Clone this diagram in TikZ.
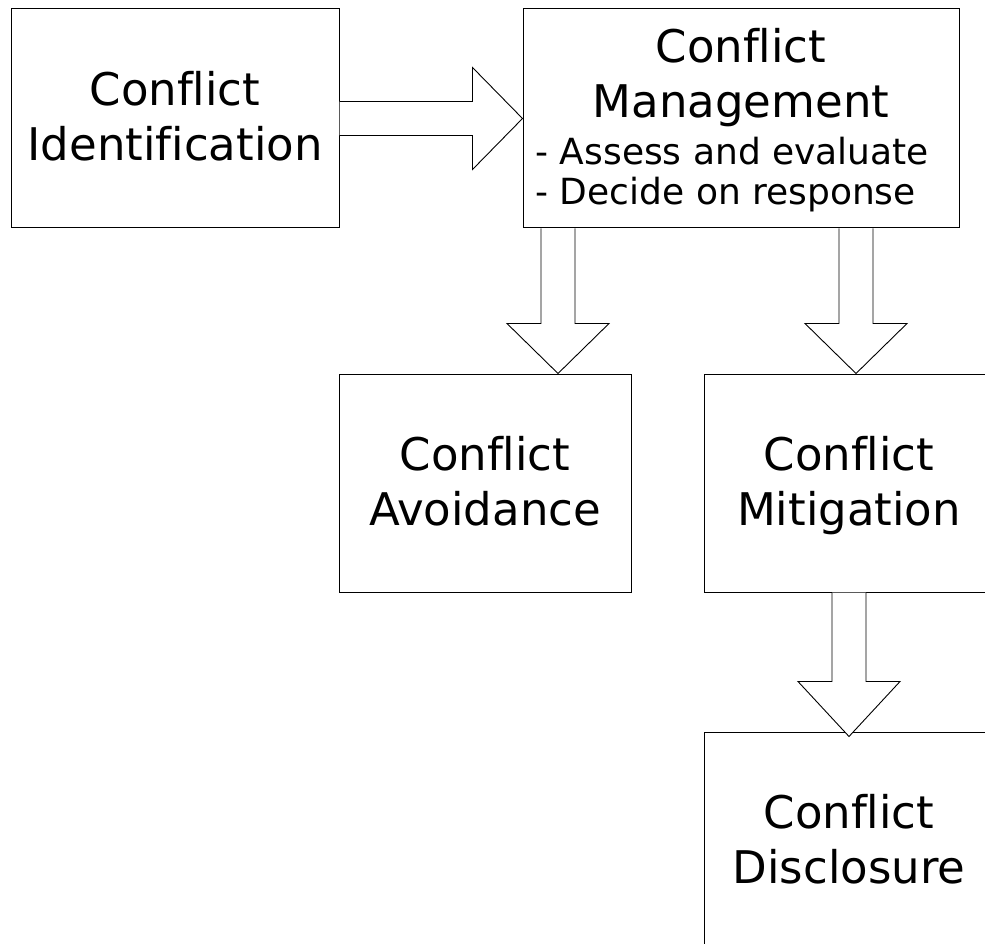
\documentclass[tikz,border=0pt]{standalone}
\usepackage{fontspec}
\setmainfont{DejaVu Sans}[Ligatures=NoCommon]
\usetikzlibrary{calc,positioning}

\tikzset{every picture/.style={line width=1pt}}
\tikzset{
	stagebox/.style={draw, inner sep=0pt, align=center, text depth=5pt, font=\fontsize{45}{55}\selectfont},
	fatarrow/.style={draw, line width=0.9pt, line join=miter, fill=white}
}

\begin{document}
\begin{tikzpicture}[x=1pt,y=1pt,yscale=-1,xscale=1]
	\useasboundingbox (0,0) rectangle (985,944);
	\clip (0,0) rectangle (985,944);

	% Boxes
	\node[stagebox, minimum width=328, minimum height=219] (ident) at (175,118.5) {Conflict\\Identification};
	\node[stagebox, minimum width=436, minimum height=219] (mgmt) at (741,118.5) {};
	\node[stagebox, minimum width=292, minimum height=218] (avoid) at (485,483) {Conflict\\Avoidance};
	\node[stagebox, minimum width=290, minimum height=218] (mitig) at (849,483) {Conflict\\Mitigation};
	\node[stagebox, minimum width=290, minimum height=218] (discl) at (849,841) {Conflict\\Disclosure};

	% Text in the management box
	\node[anchor=base, align=center, inner sep=0pt, font=\fontsize{45}{55}\selectfont] (mgmttitle) at (741,118) {Conflict\\Management};
	\node[anchor=base west, align=left, inner sep=0pt, font=\fontsize{36}{40}\selectfont] (mgmtlist) at (535,205) {- Assess and evaluate\\- Decide on response};

	% where the two lower arrows leave the management box
	\coordinate (avoidx) at (558,0);
	\coordinate (mitigx) at (856,0);

	% Arrow: identification -> management
	\draw[fatarrow] ($(ident.east)+(0,-17)$) -- ($(mgmt.west)+(-50,-17)$) -- ($(mgmt.west)+(-50,-51)$) -- (mgmt.west) -- ($(mgmt.west)+(-50,51)$) -- ($(mgmt.west)+(-50,17)$) -- ($(ident.east)+(0,17)$);
	% Arrow: management -> avoidance
	\draw[fatarrow] ($(avoidx |- mgmt.south)+(-17,0)$) -- ($(avoidx |- avoid.north)+(-17,-50)$) -- ($(avoidx |- avoid.north)+(-51,-50)$) -- (avoidx |- avoid.north) -- ($(avoidx |- avoid.north)+(51,-50)$) -- ($(avoidx |- avoid.north)+(17,-50)$) -- ($(avoidx |- mgmt.south)+(17,0)$);
	% Arrow: management -> mitigation
	\draw[fatarrow] ($(mitigx |- mgmt.south)+(-17,0)$) -- ($(mitigx |- mitig.north)+(-17,-50)$) -- ($(mitigx |- mitig.north)+(-51,-50)$) -- (mitigx |- mitig.north) -- ($(mitigx |- mitig.north)+(51,-50)$) -- ($(mitigx |- mitig.north)+(17,-50)$) -- ($(mitigx |- mgmt.south)+(17,0)$);
	% Arrow: mitigation -> disclosure
	\draw[fatarrow] ($(mitig.south)+(-17,0)$) -- ($(discl.north)+(-17,-50)$) -- ($(discl.north)+(-51,-50)$) -- ($(discl.north)+(0,5)$) -- ($(discl.north)+(51,-50)$) -- ($(discl.north)+(17,-50)$) -- ($(mitig.south)+(17,0)$);

\end{tikzpicture}
\end{document}
